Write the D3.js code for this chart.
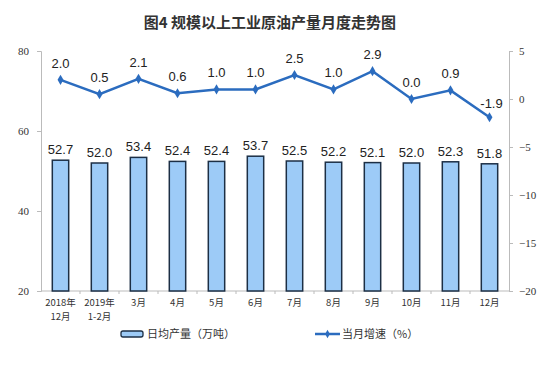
<!DOCTYPE html>
<html>
<head>
<meta charset="utf-8">
<script src="https://cdn.jsdelivr.net/npm/d3@7"></script>
<style>
  body { margin: 0; background: #fff; }
  svg { display: block; }
</style>
</head>
<body>
<svg id="chart" width="550" height="366"></svg>
<script>
// data
var months = ["2018年\n12月", "2019年\n1-2月", "3月", "4月", "5月", "6月", "7月", "8月", "9月", "10月", "11月", "12月"];
var output = [52.7, 52.0, 53.4, 52.4, 52.4, 53.7, 52.5, 52.2, 52.1, 52.0, 52.3, 51.8];
var growth = [2.0, 0.5, 2.1, 0.6, 1.0, 1.0, 2.5, 1.0, 2.9, 0.0, 0.9, -1.9];
var leftTicks = [20, 40, 60, 80];
var rightTicks = [5, 0, -5, -10, -15, -20];

var margin = {left: 41, right: 41, top: 51, bottom: 75};
var width = 550 - margin.left - margin.right;
var height = 366 - margin.top - margin.bottom;

var svg = d3.select("#chart");

svg.append("text")
    .attr("x", 270)
    .attr("y", 28)
    .attr("text-anchor", "middle")
    .attr("font-family", "'Noto Sans CJK SC', sans-serif")
    .attr("font-weight", "bold")
    .attr("font-size", 15)
    .attr("fill", "#333")
    .text("图4  规模以上工业原油产量月度走势图");

var g = svg.append("g")
    .attr("transform", "translate(" + margin.left + "," + margin.top + ")");

var x = d3.scaleBand().domain(d3.range(months.length)).range([0, width]).paddingInner(0.58).paddingOuter(0.29);
var yL = d3.scaleLinear().domain([20, 80]).range([height, 0]);
var yR = d3.scaleLinear().domain([-20, 5]).range([height, 0]);

// left axis
var left = g.append("g")
    .call(d3.axisLeft(yL).tickValues(leftTicks).tickSize(4).tickPadding(8));
left.select(".domain").attr("stroke", "#bbb");
left.selectAll(".tick line").attr("stroke", "#bbb");
left.selectAll("text")
    .attr("font-family", "'Liberation Serif', serif")
    .attr("font-size", 11).attr("fill", "#333");

// right axis
var right = g.append("g")
    .attr("transform", "translate(" + width + ",0)")
    .call(d3.axisRight(yR).tickValues(rightTicks).tickSize(4).tickPadding(6));
right.select(".domain").attr("stroke", "#bbb");
right.selectAll(".tick line").attr("stroke", "#bbb");
right.selectAll("text")
    .attr("font-family", "'Liberation Serif', serif")
    .attr("font-size", 11).attr("fill", "#333");

// bottom axis line with little ticks between categories
g.append("line")
    .attr("x1", 0).attr("x2", width)
    .attr("y1", height).attr("y2", height)
    .attr("stroke", "#bbb");
g.selectAll("line.sep")
    .data(d3.range(1, months.length))
    .enter().append("line")
    .attr("class", "sep")
    .attr("x1", function(d){ return x.step() * d; })
    .attr("x2", function(d){ return x.step() * d; })
    .attr("y1", height).attr("y2", height + 3)
    .attr("stroke", "#bbb");

// bars
g.selectAll("rect.bar")
    .data(output)
    .enter().append("rect")
    .attr("class", "bar")
    .attr("x", function(d, i){ return x(i); })
    .attr("width", x.bandwidth())
    .attr("y", function(d){ return yL(d); })
    .attr("height", function(d){ return height - yL(d); })
    .attr("fill", "#9dcbf7")
    .attr("stroke", "#1c2f45")
    .attr("stroke-width", 1.5);

g.selectAll("text.barlab")
    .data(output)
    .enter().append("text")
    .attr("class", "barlab")
    .attr("x", function(d, i){ return x(i) + x.bandwidth() / 2; })
    .attr("y", function(d){ return yL(d) - 6; })
    .attr("text-anchor", "middle")
    .attr("font-family", "'Liberation Sans', Arial, sans-serif")
    .attr("font-size", 13)
    .attr("fill", "#222")
    .text(function(d){ return d.toFixed(1); });

// growth line
var cx = function(d, i){ return x(i) + x.bandwidth() / 2; };
var line = d3.line().x(cx).y(function(d){ return yR(d); });

g.append("path")
    .datum(growth)
    .attr("d", line)
    .attr("fill", "none")
    .attr("stroke", "#2b6cbf")
    .attr("stroke-width", 2.5);

g.selectAll("path.mark")
    .data(growth)
    .enter().append("path")
    .attr("class", "mark")
    .attr("transform", function(d, i){ return "translate(" + cx(d, i) + "," + yR(d) + ")"; })
    .attr("d", d3.symbol().type(d3.symbolDiamond).size(30))
    .attr("fill", "#2b6cbf");

g.selectAll("text.linelab")
    .data(growth)
    .enter().append("text")
    .attr("class", "linelab")
    .attr("x", function(d, i){ return cx(d, i) + (i == growth.length - 1 ? 2 : 0); })
    .attr("y", function(d, i){ return i == growth.length - 1 ? yR(d) - 9 : yR(d) - 12; })
    .attr("text-anchor", "middle")
    .attr("font-family", "'Liberation Sans', Arial, sans-serif")
    .attr("font-size", 13)
    .attr("fill", "#222")
    .text(function(d){ return d.toFixed(1); });

// category labels, two-line ones as separate texts
var xl = g.selectAll("g.xlab")
    .data(months)
    .enter().append("g")
    .attr("class", "xlab")
    .attr("transform", function(d, i){ return "translate(" + cx(d, i) + "," + (height + 15) + ")"; });
xl.selectAll("text")
    .data(function(d){ return d.split("\n"); })
    .enter().append("text")
    .attr("y", function(d, i){ return i * 14; })
    .attr("text-anchor", "middle")
    .attr("font-family", "'Noto Sans CJK SC', sans-serif")
    .attr("font-size", 9.5)
    .attr("fill", "#333")
    .text(function(d){ return d; });

// legend
var leg = svg.append("g").attr("transform", "translate(0,334)");
leg.append("rect")
    .attr("x", 121).attr("y", -3)
    .attr("width", 22).attr("height", 6)
    .attr("rx", 2)
    .attr("fill", "#9dcbf7").attr("stroke", "#1c2f45").attr("stroke-width", 1.3);
leg.append("text")
    .attr("x", 147).attr("y", 4)
    .attr("font-family", "'Noto Sans CJK SC', sans-serif")
    .attr("font-size", 11).attr("fill", "#333")
    .text("日均产量（万吨）");
leg.append("line")
    .attr("x1", 315).attr("x2", 340).attr("y1", 0).attr("y2", 0)
    .attr("stroke", "#2b6cbf").attr("stroke-width", 2.5);
leg.append("path")
    .attr("transform", "translate(327.5,0)")
    .attr("d", d3.symbol().type(d3.symbolDiamond).size(20))
    .attr("fill", "#2b6cbf");
leg.append("text")
    .attr("x", 342).attr("y", 4)
    .attr("font-family", "'Noto Sans CJK SC', sans-serif")
    .attr("font-size", 11).attr("fill", "#333")
    .text("当月增速（%）");
</script>
</body>
</html>
